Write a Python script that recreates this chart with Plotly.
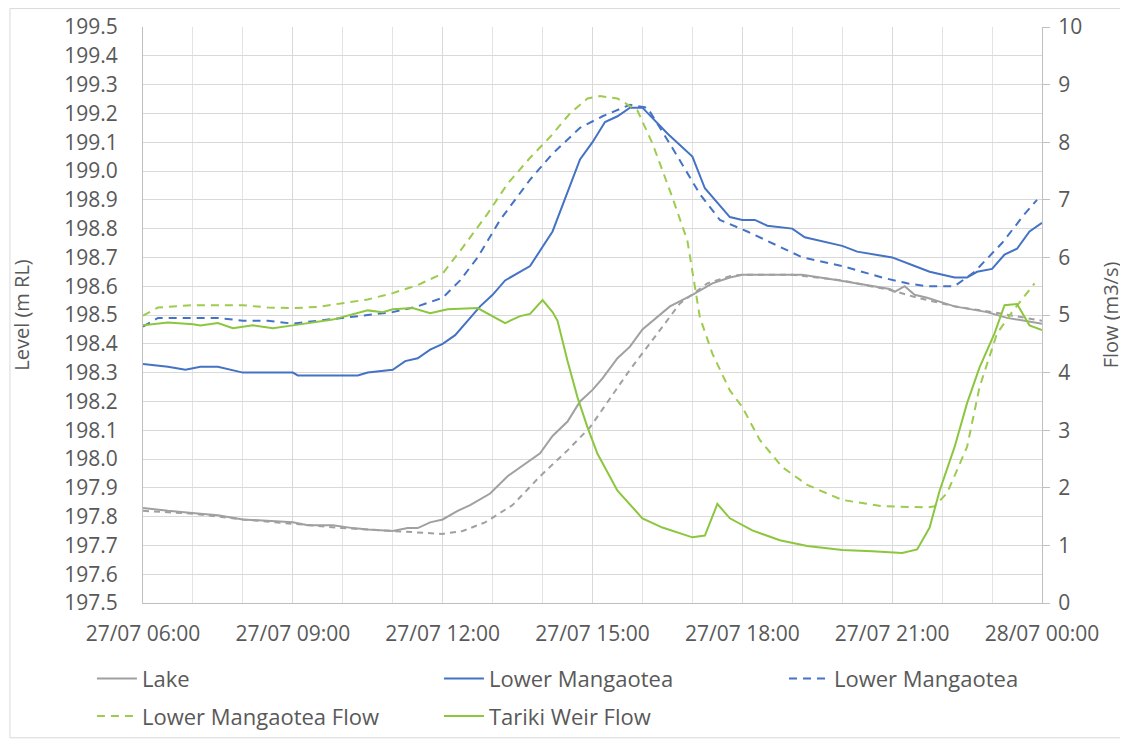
import datetime as dt
import plotly.graph_objects as go

# hours since 27/07 00:00
lake_h = [6.0, 6.5, 7.15, 7.5, 8.0, 8.5, 9.0, 9.3, 9.8, 10.2, 10.5, 11.0, 11.3, 11.5, 11.75,
          12.0, 12.3, 12.55, 12.95, 13.3, 13.7, 13.95, 14.2, 14.5, 14.75, 15.0, 15.2, 15.5,
          15.75, 16.0, 16.55, 17.0, 17.4, 17.75, 18.0, 18.75, 19.2, 19.95, 20.95, 21.05,
          21.25, 21.45, 21.7, 22.25, 22.9, 23.3, 23.65, 24.0]
lake = [197.83, 197.82, 197.81, 197.805, 197.79, 197.785, 197.78, 197.77, 197.77, 197.76,
        197.755, 197.75, 197.76, 197.76, 197.78, 197.79, 197.82, 197.84, 197.88, 197.94,
        197.99, 198.02, 198.08, 198.13, 198.20, 198.24, 198.28, 198.35, 198.39, 198.45,
        198.53, 198.57, 198.61, 198.63, 198.64, 198.64, 198.64, 198.62, 198.59, 198.58,
        198.60, 198.57, 198.56, 198.53, 198.51, 198.49, 198.48, 198.47]

lake_mod_h = [6.0, 7.0, 8.0, 9.0, 10.0, 11.0, 11.5, 12.0, 12.4, 12.85, 13.4, 13.95, 14.5,
              14.95, 15.35, 15.75, 16.1, 16.4, 16.75, 17.3, 17.75, 18.0, 19.0, 20.0, 21.0,
              21.5, 22.25, 23.0, 23.65, 24.0]
lake_mod = [197.82, 197.81, 197.79, 197.775, 197.76, 197.75, 197.745, 197.74, 197.75,
            197.78, 197.84, 197.94, 198.03, 198.11, 198.21, 198.31, 198.39, 198.46, 198.54,
            198.61, 198.635, 198.64, 198.64, 198.62, 198.585, 198.56, 198.53, 198.51,
            198.49, 198.48]

lm_h = [6.0, 6.5, 6.85, 7.15, 7.5, 8.0, 9.0, 9.1, 10.0, 10.3, 10.5, 11.0, 11.25, 11.5, 11.75,
        12.0, 12.25, 12.5, 12.75, 13.0, 13.25, 13.75, 14.2, 14.75, 15.0, 15.25, 15.5, 15.75,
        16.0, 16.5, 17.0, 17.25, 17.75, 18.0, 18.25, 18.5, 19.0, 19.25, 20.0, 20.3, 21.0,
        21.45, 21.75, 22.25, 22.5, 22.7, 23.0, 23.25, 23.5, 23.75, 24.0]
lm = [198.33, 198.32, 198.31, 198.32, 198.32, 198.30, 198.30, 198.29, 198.29, 198.29, 198.30,
      198.31, 198.34, 198.35, 198.38, 198.40, 198.43, 198.48, 198.53, 198.57, 198.62, 198.67,
      198.79, 199.04, 199.10, 199.17, 199.19, 199.22, 199.22, 199.13, 199.05, 198.94, 198.84,
      198.83, 198.83, 198.81, 198.80, 198.77, 198.74, 198.72, 198.70, 198.67, 198.65, 198.63,
      198.63, 198.65, 198.66, 198.71, 198.73, 198.79, 198.82]

lm_mod_h = [6.0, 6.3, 7.0, 7.5, 8.0, 8.5, 9.0, 9.5, 10.0, 10.5, 11.0, 11.5, 12.0, 12.35, 12.7,
            13.15, 13.75, 14.2, 14.75, 15.2, 15.75, 16.1, 16.6, 17.15, 17.55, 18.1, 18.6,
            19.2, 20.0, 20.8, 21.3, 21.7, 22.25, 22.65, 23.2, 23.65, 23.9]
lm_mod = [198.46, 198.49, 198.49, 198.49, 198.48, 198.48, 198.47, 198.48, 198.49, 198.50,
          198.51, 198.53, 198.56, 198.62, 198.70, 198.83, 198.97, 199.06, 199.15, 199.19,
          199.23, 199.22, 199.08, 198.92, 198.83, 198.79, 198.75, 198.70, 198.67, 198.63,
          198.61, 198.60, 198.60, 198.65, 198.75, 198.85, 198.90]

lmf_h = [6.0, 6.3, 7.0, 8.0, 8.5, 9.0, 9.5, 10.0, 10.5, 11.0, 11.5, 12.0, 12.4, 12.9, 13.3,
         13.75, 14.15, 14.55, 14.9, 15.15, 15.5, 15.9, 16.2, 16.6, 16.9, 17.15, 17.4, 17.75,
         18.0, 18.35, 18.8, 19.3, 20.0, 20.8, 21.7, 21.85, 22.1, 22.5, 22.75, 23.1, 23.4, 23.85]
lmf = [4.99, 5.13, 5.17, 5.17, 5.13, 5.12, 5.14, 5.20, 5.27, 5.38, 5.52, 5.72, 6.17, 6.76,
       7.28, 7.73, 8.09, 8.50, 8.76, 8.80, 8.76, 8.55, 7.98, 7.04, 6.29, 4.96, 4.33, 3.69,
       3.40, 2.83, 2.36, 2.05, 1.79, 1.68, 1.66, 1.68, 1.91, 2.71, 3.75, 4.68, 5.05, 5.55]

twf_h = [6.0, 6.5, 7.0, 7.15, 7.5, 7.8, 8.2, 8.6, 9.0, 9.8, 10.5, 10.8, 11.0, 11.4, 11.75,
         12.1, 12.7, 13.25, 13.55, 13.75, 14.0, 14.2, 14.3, 14.5, 14.7, 14.9, 15.1, 15.5,
         16.0, 16.4, 17.0, 17.25, 17.5, 17.75, 18.2, 18.75, 19.3, 20.0, 20.6, 21.2, 21.5,
         21.75, 21.95, 22.25, 22.5, 22.75, 23.05, 23.25, 23.5, 23.75, 24.0]
twf = [4.82, 4.87, 4.84, 4.82, 4.86, 4.77, 4.82, 4.77, 4.82, 4.92, 5.08, 5.05, 5.10, 5.12,
       5.03, 5.10, 5.12, 4.86, 4.98, 5.02, 5.26, 5.05, 4.90, 4.20, 3.57, 3.05, 2.59, 1.95,
       1.47, 1.31, 1.14, 1.17, 1.72, 1.47, 1.26, 1.09, 0.99, 0.92, 0.90, 0.87, 0.93, 1.31,
       1.95, 2.71, 3.47, 4.09, 4.68, 5.17, 5.19, 4.82, 4.74]

base = dt.datetime(2020, 7, 27)


def times(hours):
    return [base + dt.timedelta(hours=h) for h in hours]


GREY = "#A0A0A0"
BLUE = "#4472C4"
GREEN = "#8CC63F"
GREEN_D = "#9DCB4E"
TXT = "#595959"
FONT = "Open Sans"

fig = go.Figure()
fig.add_trace(go.Scatter(x=times(lake_mod_h), y=lake_mod, mode="lines", showlegend=False,
                         line=dict(color=GREY, width=2, dash="6px,5px")))
fig.add_trace(go.Scatter(x=times(lake_h), y=lake, mode="lines", name="Lake",
                         legend="legend", legendgroup="a",
                         line=dict(color=GREY, width=2)))
fig.add_trace(go.Scatter(x=times(lm_h), y=lm, mode="lines", name="Lower Mangaotea",
                         legend="legend2", legendgroup="c",
                         line=dict(color=BLUE, width=2)))
fig.add_trace(go.Scatter(x=times(lm_mod_h), y=lm_mod, mode="lines", name="Lower Mangaotea",
                         legend="legend3", legendgroup="e",
                         line=dict(color=BLUE, width=2, dash="8px,6px")))
fig.add_trace(go.Scatter(x=times(lmf_h), y=lmf, mode="lines", name="Lower Mangaotea Flow",
                         yaxis="y2", legend="legend", legendgroup="b",
                         line=dict(color=GREEN_D, width=2, dash="8px,6px")))
fig.add_trace(go.Scatter(x=times(twf_h), y=twf, mode="lines", name="Tariki Weir Flow",
                         yaxis="y2", legend="legend2", legendgroup="d",
                         line=dict(color=GREEN, width=2)))

leg = dict(orientation="v", xanchor="left", y=-0.095, yanchor="top",
           itemwidth=40, font=dict(size=22, color=TXT), tracegroupgap=6,
           bgcolor="rgba(0,0,0,0)")

# page body adds an 8px offset, so the figure is 8px smaller than the window
fig.update_layout(
    width=1120, height=732,
    margin=dict(l=135, r=86, t=19, b=137, autoexpand=False),
    paper_bgcolor="white", plot_bgcolor="white",
    font=dict(family=FONT, size=21, color=TXT),
    xaxis=dict(
        range=[base + dt.timedelta(hours=6), base + dt.timedelta(hours=24)],
        tickformat="%d/%m %H:%M", dtick=3 * 3600000,
        tick0=base + dt.timedelta(hours=6),
        showgrid=True, gridcolor="#D9D9D9", gridwidth=1,
        minor=dict(dtick=3600000, showgrid=True, gridcolor="#E3E3E3"),
        showline=True, linecolor="#BFBFBF", linewidth=1,
        ticks="", ticklabelstandoff=12, zeroline=False, automargin=False,
    ),
    yaxis=dict(
        range=[197.5, 199.5], dtick=0.1, tickformat=".1f",
        showgrid=True, gridcolor="#D9D9D9", gridwidth=1,
        showline=True, linecolor="#BFBFBF", zeroline=False,
        ticklabelstandoff=20, automargin=False,
        title=dict(text="Level (m RL)", font=dict(size=20, color=TXT), standoff=34),
    ),
    yaxis2=dict(
        range=[0, 10], dtick=1, overlaying="y", side="right",
        showgrid=False, showline=True, linecolor="#BFBFBF", zeroline=False,
        ticks="outside", ticklen=7, tickcolor="#BFBFBF",
        ticklabelstandoff=4, automargin=False,
        title=dict(text="Flow (m3/s)", font=dict(size=20, color=TXT), standoff=22),
    ),
    legend=dict(leg, x=-0.0568),
    legend2=dict(leg, x=0.3292),
    legend3=dict(leg, x=0.713),
)

fig.add_shape(type="rect", xref="paper", yref="paper",
              x0=-0.148, x1=1.0945, y0=-0.234, y1=1.032,
              line=dict(color="#D9D9D9", width=1), layer="below")

fig.write_html("out.html")
